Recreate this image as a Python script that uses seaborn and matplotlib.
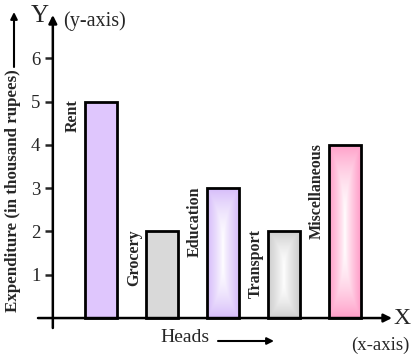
import numpy as np
import pandas as pd
import matplotlib
matplotlib.use("Agg")
import matplotlib.pyplot as plt
import matplotlib.colors as mcolors
import seaborn as sns

# --- data ---
heads = ["Rent", "Grocery", "Education", "Transport", "Miscellaneous"]
expenditure = [5, 2, 3, 2, 4]
bar_colors = ["#dfc6fd", "#d9d9d9", "#d6bcfa", "#cdcdcd", "#ff9ec8"]
gradient = [False, False, True, True, True]
yticks = [1, 2, 3, 4, 5, 6]

sns.set_style("white")
plt.rcParams["font.family"] = ["Liberation Serif", "DejaVu Serif"]

W, H = 417, 359
fig = plt.figure(figsize=(W / 100, H / 100), dpi=100)

# axes placed so that x axis runs 38..392 px and y axis 15..328 px
ax = fig.add_axes([38 / W, (H - 328) / H, (392 - 38) / W, (328 - 15) / H])

df = pd.DataFrame({"head": heads, "value": expenditure})
sns.barplot(data=df, x="head", y="value", order=heads, palette=bar_colors,
            hue="head", legend=False, width=0.52, saturation=1,
            edgecolor="black", linewidth=2, ax=ax)

x_left, x_right = -1.03, 4.77
y_axis_x = -0.787
ax.set_xlim(x_left, x_right)
ax.set_ylim(-0.23, 7.0)

# gradient fill (white centre, coloured rim)
ny, nx = 200, 60
u = np.linspace(-1, 1, nx)
v = np.linspace(-1, 1, ny)
U, V = np.meshgrid(u, v)
t = np.maximum(np.abs(U), np.abs(V) ** 2.5) ** 0.8
for patch, col, grad in zip(ax.patches, bar_colors, gradient):
    if not grad:
        continue
    base = np.array(mcolors.to_rgb(col))
    img = (1 - t[..., None]) * 1.0 + t[..., None] * base
    x0, y0 = patch.get_x(), patch.get_y()
    w, h = patch.get_width(), patch.get_height()
    im = ax.imshow(img, extent=[x0, x0 + w, y0, y0 + h], aspect="auto",
                   zorder=0.5, interpolation="bilinear")
    im.set_clip_path(patch)
    patch.set_facecolor("none")

# bar labels, rotated, to the left of each bar
for patch, name in zip(ax.patches, heads):
    xc = patch.get_x() + patch.get_width() / 2
    ax.text(xc - 0.46, patch.get_height() + 0.05, name, rotation=90,
            ha="center", va="top", fontsize=11.5, fontweight="bold")

# axes drawn as arrows
for s in ax.spines.values():
    s.set_visible(False)
ax.annotate("", xy=(x_right, 0), xytext=(x_left, 0),
            arrowprops=dict(arrowstyle="-|>", lw=1.8, color="black",
                            mutation_scale=12, shrinkA=0, shrinkB=0))
ax.annotate("", xy=(y_axis_x, 7.0), xytext=(y_axis_x, -0.23),
            arrowprops=dict(arrowstyle="-|>", lw=1.8, color="black",
                            mutation_scale=12, shrinkA=0, shrinkB=0))

ax.spines["left"].set_position(("data", y_axis_x))
ax.set_yticks(yticks)
ax.set_yticklabels([str(y) for y in yticks], fontsize=13.5)
ax.tick_params(axis="y", direction="out", length=6, width=1.8, pad=3, left=True)
ax.set_xticks([])
ax.set_xlabel("")
ax.set_ylabel("")

# texts around the axes
def px(x, y):
    return x / W, 1 - y / H

fig.text(*px(40, 16), "Y", fontsize=18, ha="center", va="center")
fig.text(*px(63, 21), "(y-axis)", fontsize=14.5, ha="left", va="center")
fig.text(*px(402, 318), "X", fontsize=17, ha="center", va="center")
fig.text(*px(380, 345), "(x-axis)", fontsize=13.5, ha="center", va="center")
fig.text(*px(185, 337), "Heads", fontsize=14, ha="center", va="center")
fig.text(*px(13, 191), "Expenditure (in thousand rupees)", fontsize=12.2,
         fontweight="bold", rotation=90, ha="center", va="center")

fig.add_artist(matplotlib.patches.FancyArrowPatch(
    px(218, 341), px(274, 341), transform=fig.transFigure,
    arrowstyle="-|>", mutation_scale=10, lw=1.5, color="black",
    shrinkA=0, shrinkB=0))
fig.add_artist(matplotlib.patches.FancyArrowPatch(
    px(14, 67), px(14, 12), transform=fig.transFigure,
    arrowstyle="-|>", mutation_scale=10, lw=1.5, color="black",
    shrinkA=0, shrinkB=0))

fig.savefig("out.png", dpi=100)
